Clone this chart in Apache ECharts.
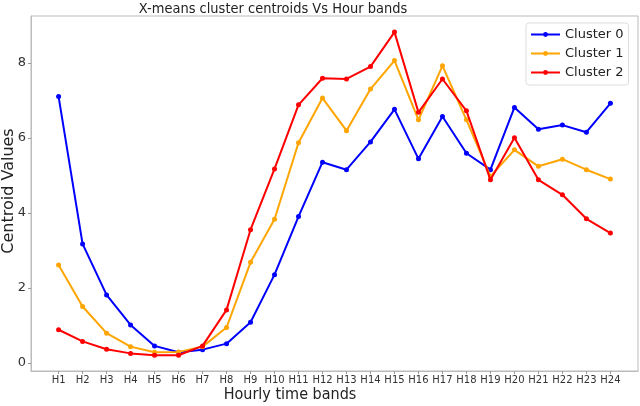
<!DOCTYPE html>
<html>
<head>
<meta charset="utf-8">
<script src="https://cdn.jsdelivr.net/npm/echarts@6/dist/echarts.min.js"></script>
<style>html,body{margin:0;padding:0;background:#fff;}#c{width:640px;height:406px;}</style>
</head>
<body>
<div id="c"></div>
<script>
const categories = ['H1','H2','H3','H4','H5','H6','H7','H8','H9','H10','H11','H12','H13','H14','H15','H16','H17','H18','H19','H20','H21','H22','H23','H24'];
const cluster0 = [7.10,3.17,1.81,1.01,0.45,0.28,0.35,0.51,1.08,2.35,3.90,5.35,5.15,5.89,6.76,5.44,6.57,5.59,5.15,6.81,6.23,6.34,6.15,6.92];
const cluster1 = [2.61,1.50,0.79,0.43,0.28,0.29,0.43,0.94,2.68,3.83,5.87,7.06,6.19,7.30,8.06,6.48,7.92,6.48,4.97,5.68,5.24,5.43,5.15,4.90];
const cluster2 = [0.88,0.57,0.36,0.25,0.20,0.20,0.45,1.41,3.55,5.17,6.88,7.59,7.57,7.90,8.82,6.68,7.57,6.72,4.88,6.00,4.88,4.48,3.84,3.46];
const seriesNames = ['Cluster 0','Cluster 1','Cluster 2'];
const yTicks = [0,2,4,6,8];
const titleText = 'X-means cluster centroids Vs Hour bands';
const xName = 'Hourly time bands';
const yName = 'Centroid Values';

const colors = ['#0000ff','#ffa500','#ff0000'];
const font = 'DejaVu Sans';
const toPairs = arr => arr.map((v,i)=>[i+1,v]);
const xTickVals = categories.map((_,i)=>i+1);

const chart = echarts.init(document.getElementById('c'));
chart.setOption({
  animation:false,
  backgroundColor:'#fff',
  textStyle:{fontFamily:font},
  grid:{left:31,right:2,top:16,bottom:35,show:true,borderColor:'#bbb',borderWidth:1,containLabel:false,outerBoundsMode:'none'},
  xAxis:{
    type:'value',min:-0.15,max:25.15,
    axisLine:{show:true,onZero:false,lineStyle:{color:'#bbb'}},
    axisTick:{show:true,length:3,lineStyle:{color:'#999'},customValues:xTickVals},
    axisLabel:{customValues:xTickVals,formatter:v=>categories[Math.round(v)-1]||'',fontSize:10,color:'#333',margin:4,fontFamily:font},
    splitLine:{show:false}
  },
  yAxis:{
    type:'value',min:-0.22,max:9.25,
    axisLine:{show:true,onZero:false,lineStyle:{color:'#bbb'}},
    axisTick:{show:true,length:3,lineStyle:{color:'#999'},customValues:yTicks},
    axisLabel:{customValues:yTicks,fontSize:13,color:'#333',margin:5,fontFamily:font},
    splitLine:{show:false}
  },
  legend:{
    orient:'vertical',left:526,top:23,
    padding:[4,5,5,4],itemGap:4,itemWidth:29,itemHeight:6,
    borderColor:'#ddd',borderWidth:1,borderRadius:3,backgroundColor:'rgba(255,255,255,0.8)',
    textStyle:{fontSize:13,color:'#222',fontFamily:font,lineHeight:15},
    data:seriesNames
  },
  series:[cluster0,cluster1,cluster2].map((d,i)=>({
    name:seriesNames[i],type:'line',data:toPairs(d),
    symbol:'circle',symbolSize:5,
    lineStyle:{width:2,color:colors[i]},
    itemStyle:{color:colors[i]},
    z:2+i
  })),
  graphic:[
    {type:'text',x:273,y:9,scaleX:0.93,style:{text:titleText,font:'14px "DejaVu Sans"',fill:'#222',textAlign:'center',textVerticalAlign:'middle'}},
    {type:'text',x:290,y:395,scaleX:0.9,style:{text:xName,font:'16px "DejaVu Sans"',fill:'#222',textAlign:'center',textVerticalAlign:'middle'}},
    {type:'text',x:9,y:191,rotation:Math.PI/2,style:{text:yName,font:'16px "DejaVu Sans"',fill:'#222',textAlign:'center',textVerticalAlign:'middle'}}
  ]
});
</script>
</body>
</html>
